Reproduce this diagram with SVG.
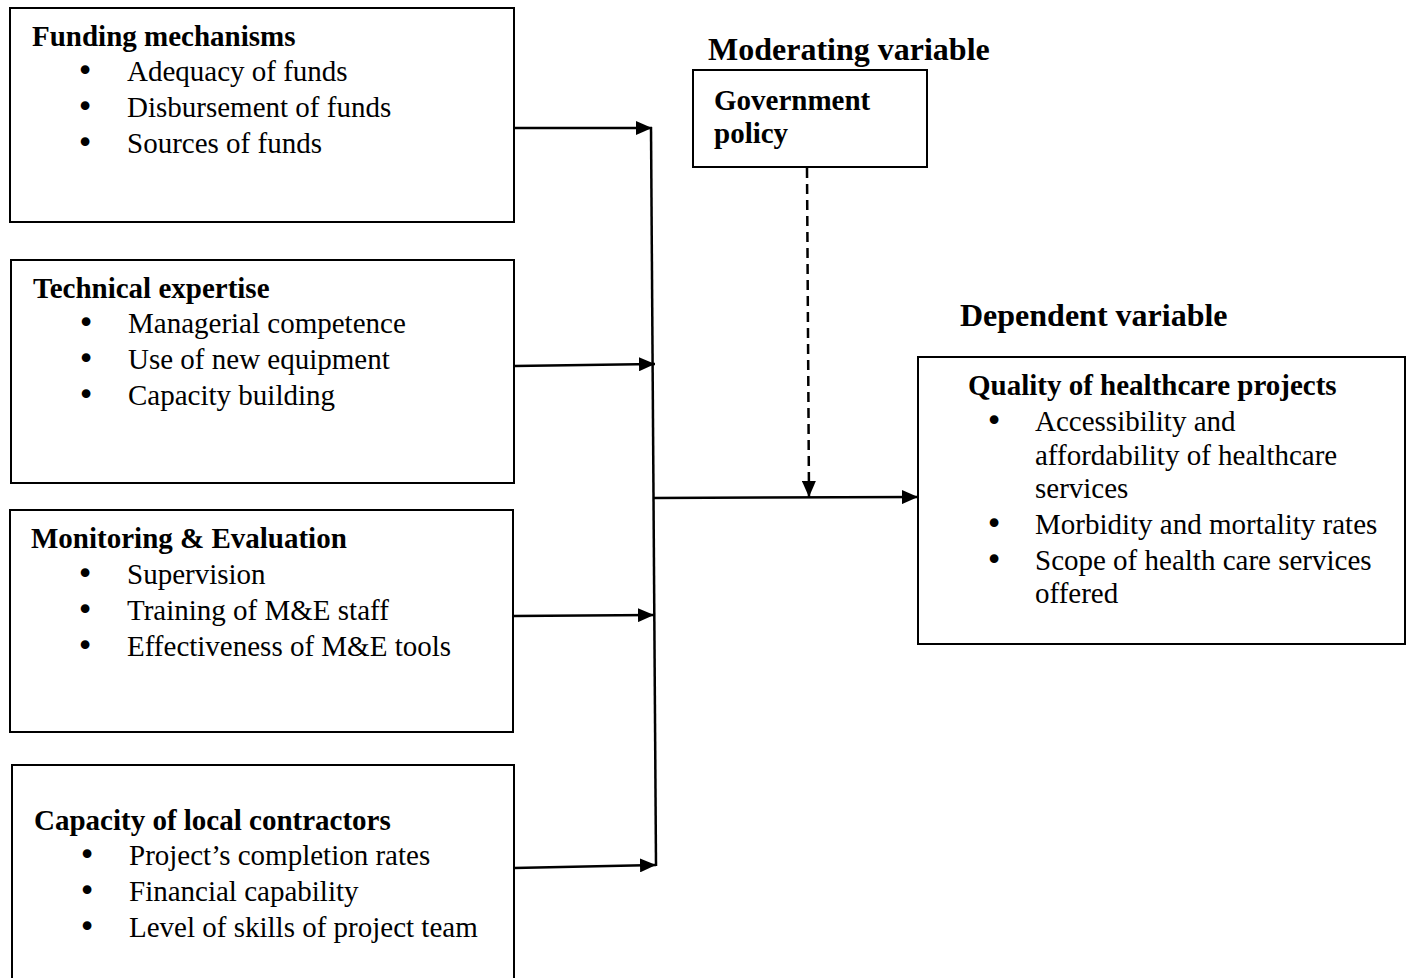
<svg xmlns="http://www.w3.org/2000/svg" width="1410" height="978" viewBox="0 0 1410 978">
<style>
.box{fill:#fff;stroke:#000;stroke-width:2}
.t{font-family:"Liberation Serif","Times New Roman",serif;font-size:29px;fill:#000}
.b{font-weight:bold}
.h{font-family:"Liberation Serif","Times New Roman",serif;font-size:32px;font-weight:bold;fill:#000}
.bul{font-family:"DejaVu Sans",sans-serif;font-size:30px;fill:#000;text-anchor:middle}
.c{stroke:#000;stroke-width:2.5;fill:none}
</style>
<defs>
<marker id="ah" markerUnits="userSpaceOnUse" markerWidth="18" markerHeight="14" refX="16" refY="7" orient="auto">
<path d="M0,0 L16,7 L0,14 Z" fill="#000"/>
</marker>
</defs>
<rect width="1410" height="978" fill="#fff"/>
<g id="connectors">
<line class="c" x1="651" y1="127" x2="656" y2="866"/>
<line class="c" x1="514" y1="128" x2="652" y2="128" marker-end="url(#ah)"/>
<line class="c" x1="514" y1="366" x2="655" y2="364" marker-end="url(#ah)"/>
<line class="c" x1="513" y1="616" x2="654" y2="615" marker-end="url(#ah)"/>
<line class="c" x1="514" y1="868" x2="656" y2="865" marker-end="url(#ah)"/>
<line class="c" x1="653" y1="498" x2="918" y2="497" marker-end="url(#ah)"/>
<line class="c" x1="807" y1="168" x2="809" y2="497" stroke-dasharray="10,6" marker-end="url(#ah)"/>
</g>
<g id="funding">
<rect class="box" x="10" y="8" width="504" height="214"/>
<text class="t b" x="32" y="46">Funding mechanisms</text>
<text class="bul" x="85" y="81">•</text><text class="t" x="127" y="81">Adequacy of funds</text>
<text class="bul" x="85" y="117">•</text><text class="t" x="127" y="117">Disbursement of funds</text>
<text class="bul" x="85" y="153">•</text><text class="t" x="127" y="153">Sources of funds</text>
</g>
<g id="technical">
<rect class="box" x="11" y="260" width="503" height="223"/>
<text class="t b" x="33" y="298">Technical expertise</text>
<text class="bul" x="86" y="333">•</text><text class="t" x="128" y="333">Managerial competence</text>
<text class="bul" x="86" y="369">•</text><text class="t" x="128" y="369">Use of new equipment</text>
<text class="bul" x="86" y="405">•</text><text class="t" x="128" y="405">Capacity building</text>
</g>
<g id="me">
<rect class="box" x="10" y="510" width="503" height="222"/>
<text class="t b" x="31" y="548">Monitoring &amp; Evaluation</text>
<text class="bul" x="85" y="584">•</text><text class="t" x="127" y="584">Supervision</text>
<text class="bul" x="85" y="620">•</text><text class="t" x="127" y="620">Training of M&amp;E staff</text>
<text class="bul" x="85" y="656">•</text><text class="t" x="127" y="656">Effectiveness of M&amp;E tools</text>
</g>
<g id="capacity">
<rect class="box" x="12" y="765" width="502" height="240"/>
<text class="t b" x="34" y="830">Capacity of local contractors</text>
<text class="bul" x="87" y="865">•</text><text class="t" x="129" y="865">Project’s completion rates</text>
<text class="bul" x="87" y="901">•</text><text class="t" x="129" y="901">Financial capability</text>
<text class="bul" x="87" y="937">•</text><text class="t" x="129" y="937">Level of skills of project team</text>
</g>
<g id="moderating">
<text class="h" x="708" y="60">Moderating variable</text>
<rect class="box" x="693" y="70" width="234" height="97"/>
<text class="t b" x="714" y="110">Government</text>
<text class="t b" x="714" y="143">policy</text>
</g>
<g id="dependent">
<text class="h" x="960" y="326">Dependent variable</text>
<rect class="box" x="918" y="357" width="487" height="287"/>
<text class="t b" x="968" y="395">Quality of healthcare projects</text>
<text class="bul" x="994" y="431">•</text><text class="t" x="1035" y="431">Accessibility and</text>
<text class="t" x="1035" y="465">affordability of healthcare</text>
<text class="t" x="1035" y="498">services</text>
<text class="bul" x="994" y="534">•</text><text class="t" x="1035" y="534">Morbidity and mortality rates</text>
<text class="bul" x="994" y="570">•</text><text class="t" x="1035" y="570">Scope of health care services</text>
<text class="t" x="1035" y="603">offered</text>
</g>
</svg>
